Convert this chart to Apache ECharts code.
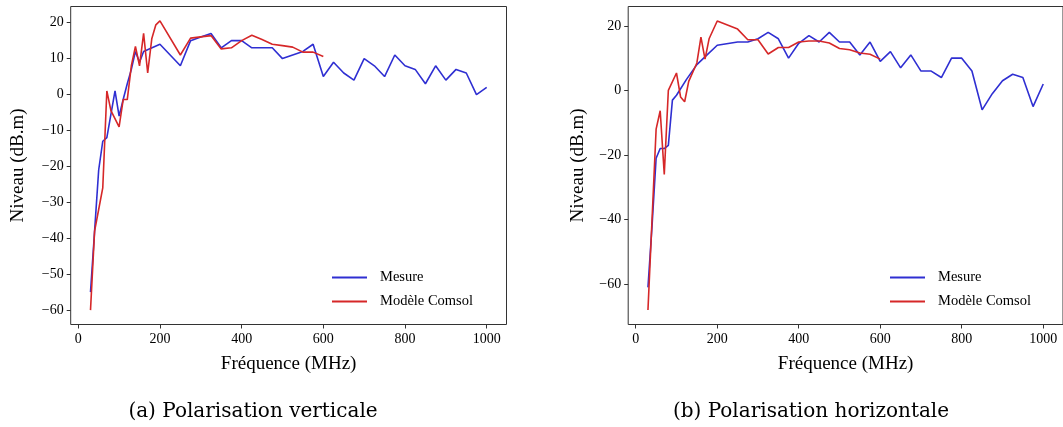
<!DOCTYPE html>
<html><head><meta charset="utf-8">
<script src="https://cdn.jsdelivr.net/npm/echarts@6/dist/echarts.min.js"></script>
<style>html,body{margin:0;padding:0;background:#fff}#c{width:1063px;height:427px}</style>
</head><body><div id="c"></div>
<script>
// Panel (a) Polarisation verticale
const freqMesureV = [30,40,50,60,70,90,100,110,120,130,140,150,160,200,250,275,300,325,350,375,400,425,450,475,500,525,550,575,600,625,650,675,700,725,750,775,800,825,850,875,900,925,950,975,1000];
const mesureV     = [-55,-38,-21,-13,-12,1,-6,-1.4,3,7,12,9,12,14,8,15,16,17,13,15,15,13,13,13,10,11,12,14,5,9,6,4,10,8,5,11,8,7,3,8,4,7,6,0,2];
const freqComsolV = [30,40,50,60,70,80,100,110,120,130,140,150,160,170,180,190,200,250,275,325,350,375,400,425,450,475,500,525,550,575,600];
const comsolV     = [-60,-38,-32,-26,1,-4.5,-9,-1.4,-1.4,8,13.4,8,17,6,15.5,19.4,20.5,11,15.7,16.4,12.7,13,15,16.5,15.3,14,13.6,13.2,11.8,11.8,10.6];
// Panel (b) Polarisation horizontale
const freqMesureH = [30,40,50,60,70,80,90,100,125,150,175,200,250,275,300,325,350,375,400,425,450,475,500,525,550,575,600,625,650,675,700,725,750,775,800,825,850,875,900,925,950,975,1000];
const mesureH     = [-61,-42,-21,-18,-18,-17,-3,-1.5,3.5,8,11,14,15,15,16,18,16,10,14.6,17,15,18,15,15,11,15,9,12,7,11,6,6,4,10,10,6,-6,-1,3,5,4,-5,2];
const freqComsolH = [30,50,60,70,80,100,110,120,130,150,160,170,180,200,250,275,300,325,350,375,400,425,450,475,500,525,550,575,600];
const comsolH     = [-68,-12,-6.3,-26,0,5.4,-2,-3.5,2.8,8.5,16.5,9.7,16,21.5,19,15.7,15.7,11.3,13.3,13.3,15,15.3,15.3,14.7,13,12.6,11.6,11.2,9.7];
const xTicks = [0,200,400,600,800,1000];
const yTicksV = [-60,-50,-40,-30,-20,-10,0,10,20];
const yTicksH = [-60,-40,-20,0,20];
const xTitle = 'Fréquence (MHz)';
const yTitle = 'Niveau (dB.m)';
const seriesNames = ['Mesure','Modèle Comsol'];
const captions = ['(a) Polarisation verticale','(b) Polarisation horizontale'];

const FONT = 'Liberation Serif';
const BLUE = '#2f2fd2', RED = '#d62728';
const zip = (a,b)=>a.map((x,i)=>[x,b[i]]);
const fmt = v => String(v).replace('-', '\u2212');

function xAx(i){
  return {type:'value', gridIndex:i, min:-18.5, max:1048.5,
    name:xTitle, nameLocation:'middle', nameGap:30,
    nameTextStyle:{fontFamily:FONT,fontSize:19,color:'#000'},
    axisLine:{show:false, onZero:false}, splitLine:{show:false},
    axisTick:{show:true, inside:false, length:4, customValues:xTicks, lineStyle:{color:'#333'}},
    axisLabel:{customValues:xTicks, fontFamily:FONT, fontSize:14, color:'#000', margin:8, formatter:fmt}};
}
function yAx(i,min,max,ticks){
  return {type:'value', gridIndex:i, min:min, max:max,
    name:yTitle, nameLocation:'middle', nameGap:i===0?43:41, nameRotate:90,
    nameTextStyle:{fontFamily:FONT,fontSize:19,color:'#000'},
    axisLine:{show:false, onZero:false}, splitLine:{show:false},
    axisTick:{show:true, length:4, customValues:ticks, lineStyle:{color:'#333'}},
    axisLabel:{customValues:ticks, fontFamily:FONT, fontSize:14, color:'#000', margin:7, formatter:fmt}};
}
function line(name,data,i,color){
  return {type:'line', name:name, xAxisIndex:i, yAxisIndex:i, data:data, showSymbol:false, symbol:'none',
    lineStyle:{color:color,width:1.6}, itemStyle:{color:color}, animation:false};
}
function leg(x){
  return {data:seriesNames.map(n=>({name:n})), left:x, top:265, orient:'vertical', itemWidth:35, itemHeight:2, itemGap:9,
      icon:'rect', textStyle:{fontFamily:FONT,fontSize:14.5,color:'#000',padding:[0,0,0,8]}};
}
const chart = echarts.init(document.getElementById('c'), null, {renderer:'canvas'});
chart.setOption({
  animation:false,
  grid:[
    {left:70.7, top:6.5, width:435.8, height:318, show:true, borderColor:'#333', borderWidth:1, backgroundColor:'transparent'},
    {left:628.2, top:6.5, width:436.6, height:318, show:true, borderColor:'#333', borderWidth:1, backgroundColor:'transparent'}
  ],
  xAxis:[xAx(0),xAx(1)],
  yAxis:[yAx(0,-64,24.5,yTicksV), yAx(1,-72.5,26,yTicksH)],
  legend:[leg(327), leg(885)],
  series:[
    line(seriesNames[0], zip(freqMesureV,mesureV), 0, BLUE),
    line(seriesNames[1], zip(freqComsolV,comsolV), 0, RED),
    line(seriesNames[0], zip(freqMesureH,mesureH), 1, BLUE),
    line(seriesNames[1], zip(freqComsolH,comsolH), 1, RED)
  ],
  graphic:[
    {type:'text', style:{text:captions[0], x:253, y:412, align:'center', verticalAlign:'middle', font:'20px "DejaVu Serif"', fill:'#000'}},
    {type:'text', style:{text:captions[1], x:811, y:412, align:'center', verticalAlign:'middle', font:'20px "DejaVu Serif"', fill:'#000'}}
  ]
});
</script></body></html>
